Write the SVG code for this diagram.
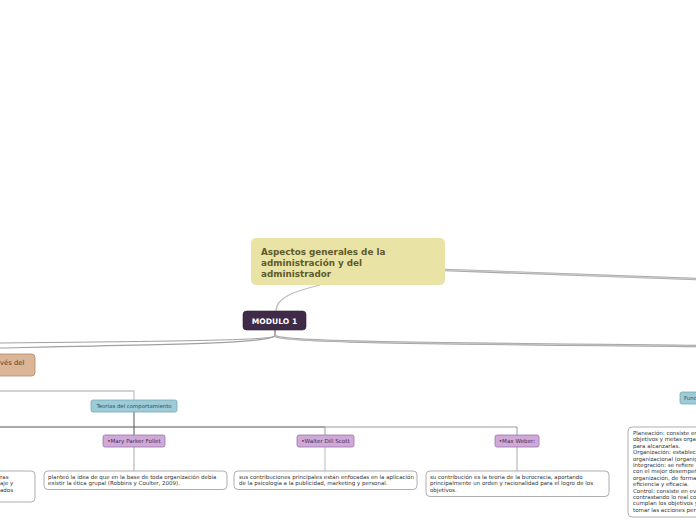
<svg xmlns="http://www.w3.org/2000/svg" width="696" height="520" viewBox="0 0 696 520">
<style>
  .f{font-family:"DejaVu Sans","Liberation Sans",sans-serif}
  .root-t{font-size:8.8px;font-weight:bold;fill:#5e5a2c}
  .mod-t{font-size:7.6px;font-weight:bold;fill:#ffffff}
  .blue{fill:#9dcbd8;stroke:#78a8b6;stroke-width:0.8}
  .blue-t{font-size:5.4px;fill:#2e5260}
  .purp{fill:#cfa9d8;stroke:#9b74a6;stroke-width:0.8}
  .purp-t{font-size:5.6px;fill:#4a2a52}
  .box{fill:#ffffff;stroke:#9a9a9a;stroke-width:0.8}
  .box-t{font-size:5.5px;fill:#333333}
  .thin{fill:none;stroke:#bdbdbd;stroke-width:1.2}
  .dark{fill:none;stroke:#555555;stroke-width:1}
</style>
<g id="connectors">
  <path d="M445,270 C520,272 600,276 696,279" fill="none" stroke="#a8a8a8" stroke-width="2.6"/>
  <path d="M445,270 C520,272 600,276 696,279" fill="none" stroke="#d6d6d6" stroke-width="0.8"/>
  <path d="M320,285 C300,290 276,296 276,311" class="thin"/>
  <path d="M275,330 L275,336" class="dark"/>
  <path d="M275,336 C270,340 200,341 0,343" fill="none" stroke="#a0a0a0" stroke-width="1"/>
  <path d="M275,336 C265,343 200,344 0,348" fill="none" stroke="#a0a0a0" stroke-width="1.2"/>
  <path d="M275,336 C285,342 400,343 696,346" fill="none" stroke="#a0a0a0" stroke-width="2.4"/>
  <path d="M275,336 C285,342 400,343 696,346" fill="none" stroke="#d8d8d8" stroke-width="0.7"/>
  <path d="M0,391 L134,391 L134,400" fill="none" stroke="#c4c4c4" stroke-width="1.3"/>
  <path d="M134,412 L134,427" class="dark"/>
  <path d="M0,427 L325,427" class="dark"/>
  <path d="M325,427 L517,427 L517,435" fill="none" stroke="#9a9a9a" stroke-width="1"/>
  <path d="M134,427 L134,435" class="dark"/>
  <path d="M325,427 L325,435" fill="none" stroke="#9a9a9a" stroke-width="1"/>
  <path d="M134,447 L134,471" fill="none" stroke="#aaaaaa" stroke-width="1"/>
  <path d="M325,447 L325,471" fill="none" stroke="#bbbbbb" stroke-width="1"/>
  <path d="M517,447 L517,471" fill="none" stroke="#aaaaaa" stroke-width="1"/>
</g>
<g id="root">
  <rect x="251" y="238" width="194" height="47" rx="5" fill="#e9e4a6"/>
  <text class="f root-t" x="261" y="255">Aspectos generales de la</text>
  <text class="f root-t" x="261" y="266">administración y del</text>
  <text class="f root-t" x="261" y="277">administrador</text>
</g>
<g id="modulo1">
  <rect x="243" y="311" width="63" height="19" rx="3.5" fill="#3f2a47" stroke="#2e1f35" stroke-width="0.6"/>
  <text class="f mod-t" x="274.5" y="323.5" text-anchor="middle">MODULO 1</text>
</g>
<g id="tan-node">
  <rect x="-10" y="354" width="45" height="22" rx="3.5" fill="#dbb597" stroke="#b38a6a" stroke-width="0.8"/>
  <text class="f" x="0" y="364.5" font-size="6.8" fill="#5c3d24">vés del</text>
</g>
<g id="teorias">
  <rect class="blue" x="91" y="400" width="86" height="12" rx="2"/>
  <text class="f blue-t" x="134" y="408" text-anchor="middle">Teorías del comportamiento</text>
</g>
<g id="mary">
  <rect class="purp" x="103" y="435" width="62" height="12" rx="2"/>
  <text class="f purp-t" x="134" y="443" text-anchor="middle">•Mary Parker Follet</text>
</g>
<g id="walter">
  <rect class="purp" x="297" y="435" width="57" height="12" rx="2"/>
  <text class="f purp-t" x="325.5" y="443" text-anchor="middle">•Walter Dill Scott</text>
</g>
<g id="weber">
  <rect class="purp" x="495" y="435" width="44" height="12" rx="2"/>
  <text class="f purp-t" x="517" y="443" text-anchor="middle">•Max Weber:</text>
</g>
<g id="box-left">
  <rect class="box" x="-10" y="471" width="45" height="31" rx="4"/>
  <text class="f box-t" x="0" y="478.5">ras</text>
  <text class="f box-t" x="0" y="485">aje y</text>
  <text class="f box-t" x="0" y="491.5">ados</text>
</g>
<g id="box-mary">
  <rect class="box" x="44" y="471" width="183" height="18.5" rx="4"/>
  <text class="f box-t" x="48" y="478.5">planteó la idea de que en la base de toda organización debía</text>
  <text class="f box-t" x="48" y="485">existir la ética grupal (Robbins y Coulter, 2009).</text>
</g>
<g id="box-walter">
  <rect class="box" x="234" y="471" width="183" height="18.5" rx="4"/>
  <text class="f box-t" x="239" y="478.5">sus contribuciones principales están enfocadas en la aplicación</text>
  <text class="f box-t" x="239" y="485">de la psicología a la publicidad, marketing y personal.</text>
</g>
<g id="box-weber">
  <rect class="box" x="426" y="471" width="183" height="25.5" rx="4"/>
  <text class="f box-t" x="430" y="478.5">su contribución es la teoría de la burocracia, aportando</text>
  <text class="f box-t" x="430" y="485">principalmente un orden y racionalidad para el logro de los</text>
  <text class="f box-t" x="430" y="491.5">objetivos.</text>
</g>
<g id="funciones">
  <rect class="blue" x="680" y="392" width="30" height="12" rx="2"/>
  <text class="f blue-t" x="684" y="400">Func</text>
</g>
<g id="box-funciones">
  <rect class="box" x="628" y="427" width="80" height="90" rx="4"/>
  <text class="f box-t" x="633" y="435">Planeación: consiste en</text>
  <text class="f box-t" x="633" y="441.4">objetivos y metas orga</text>
  <text class="f box-t" x="633" y="447.8">para alcanzarlas.</text>
  <text class="f box-t" x="633" y="454.2">Organización: establec</text>
  <text class="f box-t" x="633" y="460.6">organizacional (organig</text>
  <text class="f box-t" x="633" y="467">Integración: se refiere</text>
  <text class="f box-t" x="633" y="473.4">con el mejor desempeñ</text>
  <text class="f box-t" x="633" y="479.8">organización, de forma</text>
  <text class="f box-t" x="633" y="486.2">eficiencia y eficacia.</text>
  <text class="f box-t" x="633" y="492.6">Control: consiste en ev</text>
  <text class="f box-t" x="633" y="499">contrastando lo real co</text>
  <text class="f box-t" x="633" y="505.4">cumplan los objetivos y</text>
  <text class="f box-t" x="633" y="511.8">tomar las acciones pert</text>
</g>
</svg>
